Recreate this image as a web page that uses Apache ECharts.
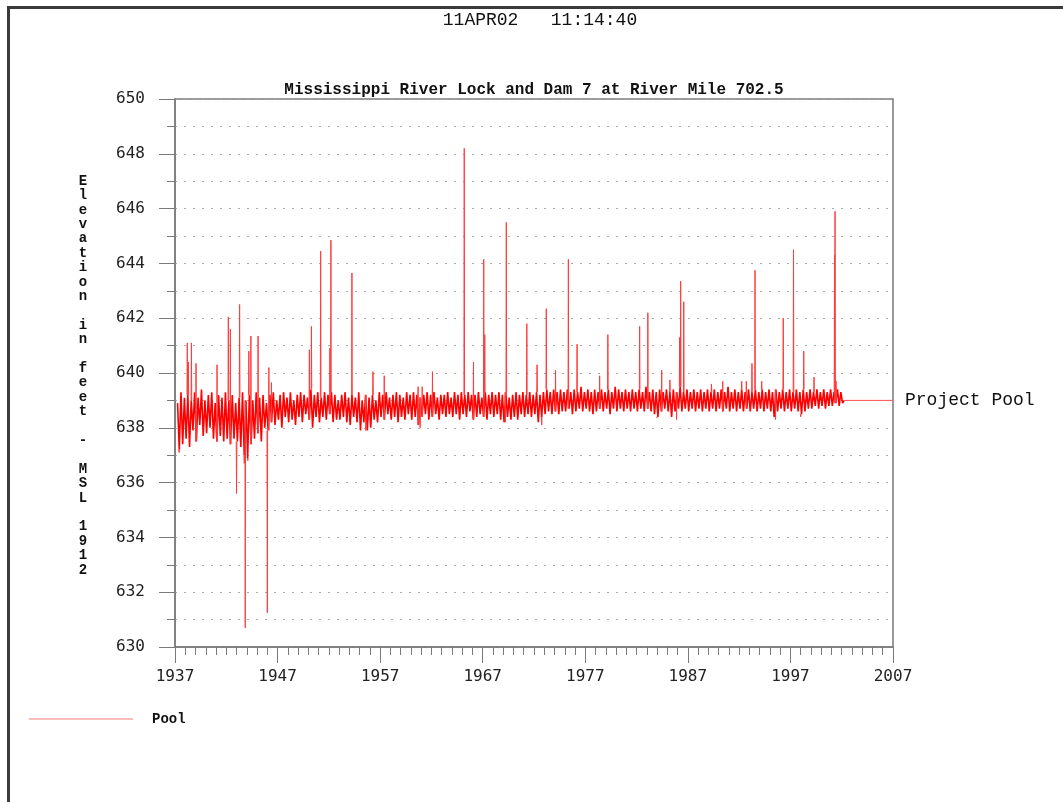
<!DOCTYPE html>
<html>
<head>
<meta charset="utf-8">
<script src="https://cdn.jsdelivr.net/npm/echarts@6/dist/echarts.min.js"></script>
<style>
html,body{margin:0;padding:0;background:#fff;}
#chart{width:1063px;height:802px;}
</style>
</head>
<body>
<div id="chart"></div>
<script>
// ---- data ----
const stampText = '11APR02   11:14:40';
const titleText = 'Mississippi River Lock and Dam 7 at River Mile 702.5';
const yAxisTitle = 'Elevation in feet - MSL 1912';
const seriesName = 'Pool';
const projectPoolName = 'Project Pool';
const baseYear = 1937;
const endYear = 2007;
const yMin = 630, yMax = 650;

// regular pool samples, 6 per year, starting 1937.25
const bandStart = 1937.25;
const bandStep = 1 / 6;
const poolBand = [
  638.9, 637.2, 639.3, 637.4, 639.1,
  637.6, 639.2, 637.3, 639.0, 637.9, 639.3,
  637.5, 639.1, 638.1, 639.4, 637.7, 639.0,
  637.8, 639.2, 638.0, 639.3, 637.6, 638.9,
  637.5, 639.2, 637.7, 639.1, 637.5, 639.3,
  637.6, 639.0, 637.4, 639.2, 637.6, 638.9,
  637.5, 639.1, 637.3, 639.3, 637.0, 639.0,
  636.9, 639.2, 637.4, 639.0, 637.6, 639.3,
  637.8, 639.1, 637.5, 639.2, 638.0, 638.9,
  637.9, 639.2, 638.2, 639.3, 638.1, 639.0,
  638.3, 639.2, 638.0, 639.3, 638.4, 639.1,
  638.2, 639.3, 638.3, 639.0, 638.1, 639.2,
  638.4, 639.3, 638.2, 639.2, 638.5, 639.1,
  638.3, 639.4, 638.0, 639.2, 638.4, 639.3,
  638.2, 639.1, 638.4, 639.3, 638.3, 639.2,
  638.5, 639.3, 638.2, 639.2, 638.3, 639.0,
  638.3, 639.2, 638.4, 639.3, 638.2, 639.1,
  638.1, 639.2, 638.4, 639.1, 638.2, 639.3,
  637.9, 639.0, 638.2, 639.2, 637.9, 639.1,
  638.0, 639.2, 638.3, 639.0, 638.2, 639.3,
  638.4, 639.2, 638.3, 639.3, 638.5, 639.1,
  638.3, 639.2, 638.4, 639.3, 638.2, 639.2,
  638.4, 639.1, 638.3, 639.3, 638.5, 639.2,
  638.3, 639.3, 638.4, 639.2, 638.1, 639.1,
  638.4, 639.2, 638.5, 639.3, 638.3, 639.2,
  638.4, 639.3, 638.5, 639.1, 638.3, 639.2,
  638.5, 639.2, 638.4, 639.3, 638.5, 639.1,
  638.4, 639.3, 638.5, 639.2, 638.3, 639.3,
  638.5, 639.2, 638.4, 639.3, 638.6, 639.2,
  638.3, 639.2, 638.4, 639.3, 638.5, 639.1,
  638.4, 639.3, 638.3, 639.2, 638.5, 639.3,
  638.4, 639.2, 638.5, 639.3, 638.3, 639.2,
  638.2, 639.3, 638.4, 639.1, 638.3, 639.2,
  638.4, 639.3, 638.3, 639.2, 638.5, 639.3,
  638.4, 639.2, 638.5, 639.3, 638.4, 639.2,
  638.5, 639.3, 638.2, 639.2, 638.4, 639.3,
  638.5, 639.4, 638.6, 639.3, 638.5, 639.4,
  638.6, 639.3, 638.5, 639.4, 638.6, 639.3,
  638.6, 639.4, 638.7, 639.3, 638.5, 639.4,
  638.6, 639.3, 638.7, 639.5, 638.6, 639.3,
  638.7, 639.4, 638.6, 639.3, 638.5, 639.4,
  638.6, 639.3, 638.7, 639.4, 638.6, 639.3,
  638.7, 639.4, 638.5, 639.3, 638.7, 639.5,
  638.6, 639.4, 638.7, 639.3, 638.6, 639.4,
  638.7, 639.3, 638.6, 639.4, 638.7, 639.3,
  638.6, 639.4, 638.7, 639.3, 638.6, 639.5,
  638.7, 639.3, 638.6, 639.4, 638.5, 639.3,
  638.4, 639.4, 638.6, 639.3, 638.7, 639.4,
  638.6, 639.3, 638.4, 639.4, 638.6, 639.3,
  638.7, 639.5, 638.6, 639.3, 638.7, 639.4,
  638.6, 639.3, 638.7, 639.4, 638.6, 639.3,
  638.7, 639.4, 638.6, 639.3, 638.7, 639.4,
  638.6, 639.3, 638.7, 639.4, 638.6, 639.3,
  638.7, 639.4, 638.6, 639.3, 638.7, 639.5,
  638.6, 639.3, 638.7, 639.4, 638.6, 639.3,
  638.7, 639.4, 638.6, 639.3, 638.7, 639.4,
  638.6, 639.3, 638.7, 639.4, 638.6, 639.3,
  638.7, 639.4, 638.6, 639.3, 638.7, 639.4,
  638.6, 639.3, 638.4, 639.4, 638.6, 639.3,
  638.7, 639.4, 638.6, 639.3, 638.7, 639.4,
  638.6, 639.3, 638.7, 639.4, 638.6, 639.3,
  638.5, 639.4, 638.6, 639.3, 638.7, 639.4,
  638.7, 639.3, 638.8, 639.4, 638.7, 639.3,
  638.8, 639.4, 638.7, 639.3, 638.8, 639.4,
  638.8, 639.3, 638.9, 639.4, 638.8, 639.3,
  638.9, 639.0
];

// isolated high-water spikes and low-water dips [year, elevation]
const poolEvents = [
  [1937.4, 637.1], [1938.2, 641.1], [1938.3, 640.4], [1938.6, 641.1], [1939.05, 640.35],
  [1941.1, 640.3], [1942.2, 642.05], [1942.4, 641.6], [1943.0, 635.6], [1943.3, 642.5],
  [1943.75, 636.7], [1943.85, 630.7], [1944.1, 636.8], [1944.2, 640.8], [1944.4, 641.35],
  [1945.1, 641.35], [1946.0, 631.25], [1946.15, 640.2], [1946.4, 639.65],
  [1950.1, 640.85], [1950.3, 641.7], [1951.2, 644.45], [1952.1, 640.9], [1952.2, 644.85],
  [1954.25, 643.65], [1955.6, 637.9], [1956.3, 640.05], [1957.4, 639.9],
  [1960.7, 639.5], [1960.9, 638.0], [1961.1, 639.5], [1962.1, 640.05],
  [1965.2, 648.2], [1966.1, 640.4], [1967.1, 644.15], [1967.2, 641.4],
  [1969.2, 638.2], [1969.3, 645.5], [1971.3, 641.8], [1972.3, 640.3], [1972.75, 638.1],
  [1973.2, 642.35], [1974.1, 640.1], [1975.35, 644.15], [1976.2, 641.05],
  [1978.4, 639.9], [1979.2, 641.4], [1982.3, 641.7], [1983.1, 642.2],
  [1984.0, 638.35], [1984.45, 640.1], [1985.25, 639.75], [1985.9, 638.3],
  [1986.2, 641.3], [1986.3, 643.35], [1986.6, 642.6], [1989.3, 639.6], [1990.4, 639.7],
  [1992.25, 639.7], [1992.7, 639.7], [1993.25, 640.35], [1993.55, 643.75], [1994.2, 639.7],
  [1995.55, 638.3], [1996.3, 642.0], [1997.3, 644.5], [1998.0, 638.4], [1998.3, 640.8],
  [1999.3, 639.85], [2001.3, 644.3], [2001.35, 645.9], [2001.45, 639.7]
];

// project pool reference level [year, elevation]
const projectPool = [[2002.3, 639.0], [2007, 639.0]];

// ---- build chart ----
const bandData = poolBand.map((v, i) => [bandStart + i * bandStep - baseYear, v]);
const eventData = [];
poolEvents.forEach(([t, v]) => {
  const i = Math.min(poolBand.length - 1, Math.max(0, Math.round((t - bandStart) / bandStep)));
  const base = poolBand[i];
  eventData.push([t - 0.03 - baseYear, base], [t - baseYear, v], [t + 0.03 - baseYear, base], ['-', '-']);
});
const projectData = projectPool.map(p => [p[0] - baseYear, p[1]]);

const chart = echarts.init(document.getElementById('chart'), null, {renderer: 'canvas'});
const axisGray = '#7a7a7a';
const dotLine = {color: '#a8a8a8', width: 1, type: [2, 7]};

chart.setOption({
  animation: false,
  backgroundColor: '#ffffff',
  graphic: [
    {type: 'rect', shape: {x: 8.5, y: 7.5, width: 1200, height: 900},
     style: {fill: 'none', stroke: '#3a3a3a', lineWidth: 3}, silent: true},
    {type: 'text', x: 540, y: 20,
     style: {text: stampText, font: '18px "Liberation Mono"', fill: '#111', align: 'center', verticalAlign: 'middle'}},
    {type: 'text', x: 534, y: 90,
     style: {text: titleText, font: 'bold 16px "Liberation Mono"', fill: '#111', align: 'center', verticalAlign: 'middle'}},
    {type: 'text', x: 83, y: 174,
     style: {text: yAxisTitle.split('').join('\n'), font: 'bold 14px "Liberation Mono"', lineHeight: 14.4,
             fill: '#111', align: 'center', verticalAlign: 'top'}}
  ],
  grid: {left: 175, top: 99, width: 718, height: 548, show: true, borderColor: axisGray, borderWidth: 1.5, containLabel: false},
  legend: {
    left: 23, top: 707, orient: 'horizontal',
    data: [{name: seriesName, lineStyle: {color: '#ffbcbc', width: 2}, itemStyle: {opacity: 0}}],
    itemWidth: 104, itemHeight: 14, itemGap: 20,
    textStyle: {fontFamily: 'Liberation Mono', fontWeight: 'bold', fontSize: 14, color: '#111', padding: [0, 0, 0, 14]}
  },
  xAxis: {
    type: 'value', min: 0, max: endYear - baseYear, interval: 10,
    axisLine: {show: true, lineStyle: {color: axisGray, width: 1.5}},
    axisTick: {show: true, length: 16, lineStyle: {color: axisGray}},
    minorTick: {show: true, splitNumber: 10, length: 8, lineStyle: {color: axisGray}},
    splitLine: {show: false},
    axisLabel: {margin: 22, formatter: v => String(v + baseYear), fontFamily: 'DejaVu Sans Mono', fontSize: 16, color: '#222'}
  },
  yAxis: {
    type: 'value', min: yMin, max: yMax, interval: 2,
    axisLine: {show: true, lineStyle: {color: axisGray, width: 1.5}},
    axisTick: {show: true, length: 16, lineStyle: {color: axisGray}},
    minorTick: {show: true, splitNumber: 2, length: 8, lineStyle: {color: axisGray}},
    splitLine: {show: true, lineStyle: dotLine},
    minorSplitLine: {show: true, lineStyle: dotLine},
    axisLabel: {margin: 30, fontFamily: 'DejaVu Sans Mono', fontSize: 16, color: '#222'}
  },
  series: [
    {
      name: seriesName, type: 'line', data: bandData, showSymbol: false, symbol: 'none',
      lineStyle: {color: '#ff0000', width: 1.6}, itemStyle: {color: '#ff0000'},
      sampling: null, z: 3
    },
    {
      name: seriesName, type: 'line', data: eventData, showSymbol: false, symbol: 'none',
      connectNulls: false,
      lineStyle: {color: '#ff3c3c', width: 1}, itemStyle: {color: '#ff3c3c'},
      sampling: null, z: 4
    },
    {
      name: projectPoolName, type: 'line', data: projectData, showSymbol: false, symbol: 'none',
      lineStyle: {color: '#ff5050', width: 1}, itemStyle: {color: '#ff5050'},
      endLabel: {show: true, formatter: projectPoolName, distance: 12,
                 fontFamily: 'Liberation Mono', fontSize: 18, color: '#111'},
      z: 2
    }
  ]
});
</script>
</body>
</html>
